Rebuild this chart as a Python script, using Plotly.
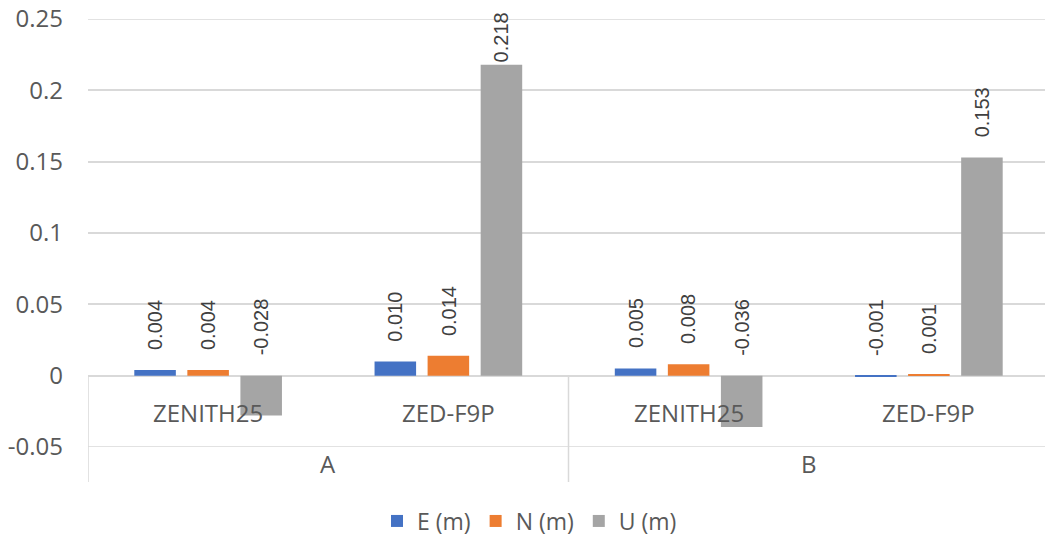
import plotly.graph_objects as go

groups = ["A", "A", "B", "B"]
devices = ["ZENITH25", "ZED-F9P", "ZENITH25", "ZED-F9P"]
series_names = ["E (m)", "N (m)", "U (m)"]
E_vals = [0.004, 0.010, 0.005, -0.001]
N_vals = [0.004, 0.014, 0.008, 0.001]
U_vals = [-0.028, 0.218, -0.036, 0.153]
colors = ["#4472C4", "#ED7D31", "#A5A5A5"]
y_ticks = [-0.05, 0, 0.05, 0.1, 0.15, 0.2, 0.25]
y_tick_text = ["-0.05", "0", "0.05", "0.1", "0.15", "0.2", "0.25"]

# page body has an 8px margin; compensate
OFF = 8
W, H = 1053 - OFF, 537 - OFF
ML, MR, MT, MB = 88 - OFF, 4, 19 - OFF, 90
ymin, ymax = -0.05, 0.25
plot_w = W - ML - MR
plot_h = H - MT - MB
px_per_unit = plot_h / (ymax - ymin)

cats = [f"{g} {d}" for g, d in zip(groups, devices)]

fig = go.Figure()
for name, vals, col in zip(series_names, [E_vals, N_vals, U_vals], colors):
    fig.add_trace(go.Bar(x=cats, y=vals, name=name, marker_color=col,
                         marker_line_width=0, hoverinfo="skip"))

annotations = []
# data labels
n_series = 3
bargap, bargroupgap = 0.3375, 0.217
slot = (1 - bargap) / n_series
gap_px = 18
label_len_px = 54
for si, vals in enumerate([E_vals, N_vals, U_vals]):
    offset = -(1 - bargap) / 2 + slot * (si + 0.5)
    for ci, v in enumerate(vals):
        base = max(v, 0)
        room = (ymax - base) * px_per_unit + 9
        shift = min(gap_px, room - label_len_px)
        annotations.append(dict(
            x=ci + offset, y=base, xref="x", yref="y",
            text=f"{v:.3f}", showarrow=False, textangle=-90,
            yanchor="bottom", xanchor="center", yshift=shift,
            font=dict(family="Liberation Sans, Arial", size=20, color="#404040")))

zero_paper = (0 - ymin) / (ymax - ymin)
# level-1 labels
for ci, d in enumerate(devices):
    annotations.append(dict(
        x=cats[ci], y=zero_paper, xref="x", yref="paper", text=d,
        showarrow=False, yanchor="middle", yshift=-37,
        font=dict(family="Open Sans", size=24, color="#595959")))
# level-2 labels
uniq_groups = []
for g in groups:
    if g not in uniq_groups:
        uniq_groups.append(g)
for g in uniq_groups:
    idx = [i for i, gg in enumerate(groups) if gg == g]
    annotations.append(dict(
        x=(idx[0] + idx[-1]) / 2, y=zero_paper, xref="x", yref="paper", text=g,
        showarrow=False, yanchor="middle", yshift=-88,
        font=dict(family="Open Sans", size=24, color="#595959")))

# dividers
shapes = []
bottom_paper = -35 / plot_h
bounds = [-0.5]
for i in range(1, len(groups)):
    if groups[i] != groups[i - 1]:
        bounds.append(i - 0.5)
bounds.append(len(groups) - 0.5)
for b in bounds:
    shapes.append(dict(type="line", xref="x", yref="paper", x0=b, x1=b,
                       y0=zero_paper, y1=bottom_paper,
                       line=dict(color="#d9d9d9", width=1.5)))
for yv in (ymin, ymax):
    shapes.append(dict(type="line", xref="paper", yref="y", x0=0, x1=1,
                       y0=yv, y1=yv, line=dict(color="#d9d9d9", width=1.5)))

fig.update_layout(
    width=W, height=H,
    margin=dict(l=ML, r=MR, t=MT, b=MB, autoexpand=False),
    paper_bgcolor="white", plot_bgcolor="white",
    barmode="group", bargap=bargap, bargroupgap=bargroupgap,
    showlegend=True,
    legend=dict(orientation="h", x=0.5 - 39 / plot_w, xanchor="center",
                y=-74 / plot_h, yanchor="middle",
                font=dict(family="Open Sans", size=23, color="#595959"),
                itemwidth=30, traceorder="normal"),
    xaxis=dict(range=[-0.5, len(cats) - 0.5], showticklabels=False, showgrid=False,
               zeroline=False, showline=False, ticks="", automargin=False),
    yaxis=dict(range=[ymin, ymax], tickvals=y_ticks, ticktext=y_tick_text,
               showgrid=True, gridcolor="#d9d9d9", gridwidth=1.5,
               zeroline=True, zerolinecolor="#d9d9d9", zerolinewidth=1.5,
               showline=False, ticks="", ticklabelstandoff=24, automargin=False,
               ticklabeloverflow="allow",
               tickfont=dict(family="Open Sans", size=24, color="#595959")),
    annotations=annotations, shapes=shapes,
)

fig.write_html("out.html")
